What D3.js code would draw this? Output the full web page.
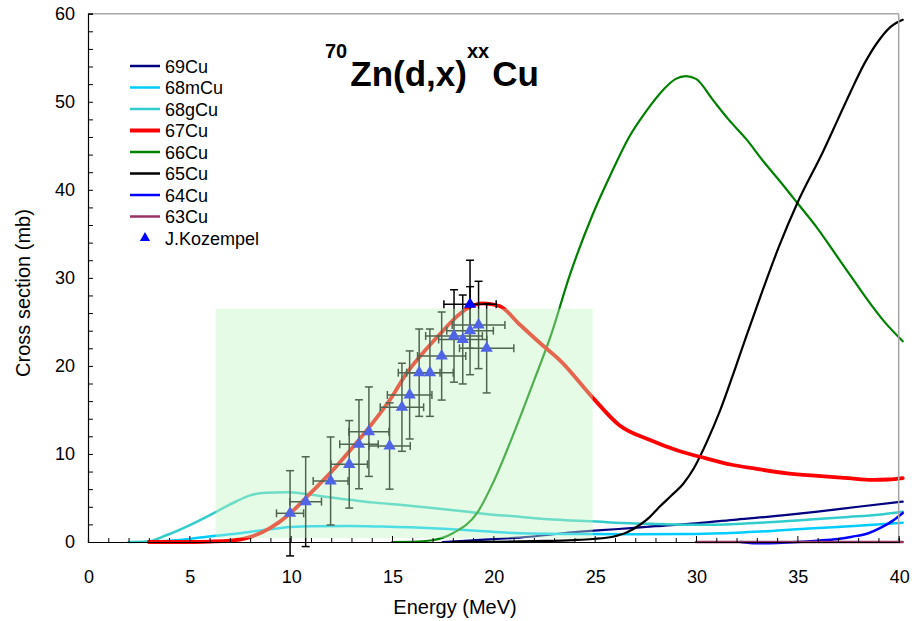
<!DOCTYPE html>
<html>
<head>
<meta charset="utf-8">
<script src="https://cdn.jsdelivr.net/npm/d3@7/dist/d3.min.js"></script>
<style>
  html, body { margin: 0; padding: 0; background: #fff; }
  svg { display: block; font-family: "Liberation Sans", Arial, sans-serif; }
</style>
</head>
<body>
<svg id="chart" width="912" height="621"></svg>
<script>
// Excitation functions for 70Zn(d,x)Cu isotopes: [energy MeV, cross section mb]
const cu69 = [[17.5,0],[19,0.2],[21.3,0.5],[24.3,1.17],[26,1.45],[28,1.8],[30,2.12],[32,2.55],[34.5,3.07],[36,3.45],[38,4.0],[40.2,4.58]];
const cu68m = [[3,0],[4,0.15],[5,0.35],[6.3,0.7],[7.5,1.0],[8.5,1.3],[10,1.7],[11,1.8],[12.9,1.82],[14.5,1.75],[17,1.56],[19,1.3],[21.3,0.99],[24.3,0.91],[27,0.88],[30,0.91],[32,1.05],[34,1.3],[35.8,1.56],[38,1.85],[40.2,2.19]];
const cu68g = [[2,0],[2.9,0.05],[3.9,0.8],[5,1.9],[6.3,3.4],[7.3,4.6],[8,5.3],[8.8,5.6],[9.8,5.65],[10.8,5.45],[11.8,5.1],[12.9,4.8],[14,4.5],[15.5,4.2],[17,3.86],[18.5,3.5],[20,3.1],[21.3,2.87],[22.5,2.6],[24.3,2.42],[26,2.2],[28,2.05],[30,1.95],[32,2.05],[34,2.3],[35.8,2.58],[37.5,2.85],[39,3.1],[40.2,3.44]];
const cu67 = [[3,0],[5,0],[6,0.05],[7,0.15],[7.9,0.5],[9,1.6],[9.9,3.1],[11,5.6],[12.1,8.2],[13,10.6],[13.9,13.1],[15,16.5],[15.7,19.1],[16.5,21.4],[17.4,23.7],[18.1,25.4],[18.7,26.5],[19.5,27.1],[20.3,26.8],[21.3,24.7],[22.3,22.6],[23.3,20.6],[24.9,16.4],[26.2,13.3],[27.7,11.6],[29.2,10.3],[30.5,9.5],[31.7,8.8],[33,8.3],[34.5,7.8],[36,7.5],[37.5,7.25],[38.7,7.06],[39.5,7.1],[40.2,7.25]];
const cu66 = [[15,0],[16,0.02],[17,0.2],[18,1.0],[19.2,3.3],[20,6.8],[21,12.3],[22,18.3],[22.8,23.2],[23.8,30.5],[24.9,37.2],[25.8,41.8],[26.7,46.0],[27.5,48.8],[28.4,51.4],[29,52.6],[29.5,52.9],[30,52.6],[30.8,50.3],[31.6,48.0],[32.5,45.7],[33.3,43.3],[34.2,40.8],[35,38.5],[36,35.6],[37,32.3],[37.7,30.0],[38.4,27.7],[39.3,25.0],[40.2,22.8]];
const cu65 = [[18,0],[20,0.02],[22,0.1],[24,0.22],[24.9,0.34],[25.9,0.6],[26.6,1.1],[27.2,1.9],[27.7,2.8],[28.2,4.0],[28.8,5.3],[29.4,6.7],[29.9,8.4],[30.5,11.2],[31.2,15],[31.9,19.5],[32.5,23.5],[33.15,27.7],[34.1,33.6],[35,38.5],[36.3,44.5],[37,48.0],[37.6,51.0],[38.3,54.3],[39,56.9],[39.6,58.5],[40.2,59.3]];
const cu64 = [[32.2,0],[33,-0.15],[34,-0.1],[35,0],[36,0.15],[37,0.35],[37.7,0.6],[38.5,1.0],[39.1,1.6],[39.7,2.4],[40.2,3.3]];
const cu63 = [[30,0],[40.2,0]];

// J.Kozempel measurements: energy, cross section, energy error, cross-section error
const kozE    = [9.97, 10.74, 11.97, 12.89, 13.37, 13.86, 14.88, 15.49, 15.87, 16.34, 16.87, 17.45, 18.06, 18.49, 18.85, 19.27, 19.67, 18.85];
const kozS    = [3.26, 4.58, 6.93, 8.82, 11.1, 12.53, 10.9, 15.3, 16.7, 19.23, 19.23, 21.12, 23.4, 23.0, 24.0, 24.65, 22.0, 27.0];
const kozDE   = [0.67, 0.78, 0.86, 0.9, 0.95, 0.99, 1.02, 1.07, 1.1, 1.03, 1.15, 1.19, 1.4, 1.19, 1.15, 1.3, 1.34, 1.29];
const kozDS   = [4.84, 5.1, 5.0, 4.97, 5.05, 5.08, 4.9, 5.0, 5.0, 4.96, 4.96, 5.0, 5.25, 5.05, 5.0, 4.96, 5.07, 5.0];

// Shaded energy window [E1, E2] x [s1, s2]
const windowE = [6.3, 24.9];
const windowS = [0.45, 26.5];

const xTicks = [0, 5, 10, 15, 20, 25, 30, 35, 40];
const yTicks = [0, 10, 20, 30, 40, 50, 60];

const seriesNames  = ["69Cu", "68mCu", "68gCu", "67Cu", "66Cu", "65Cu", "64Cu", "63Cu"];
const seriesData   = [cu69, cu68m, cu68g, cu67, cu66, cu65, cu64, cu63];
const seriesColors = ["#000080", "#00CCFF", "#33CCCC", "#FF0000", "#008000", "#000000", "#0000FF", "#993366"];
const seriesWidths = [2.2, 2.5, 2.5, 3.8, 2.2, 2.2, 2.5, 2.5];

const svg = d3.select("#chart");
const plotLeft = 88, plotRight = 898.7, plotTop = 13.7, plotBottom = 542;

const x = d3.scaleLinear().domain([0, 40]).range([plotLeft, plotRight]);
const y = d3.scaleLinear().domain([0, 60]).range([plotBottom, plotTop]);

const line = d3.line().x(d => x(d[0])).y(d => y(d[1])).curve(d3.curveMonotoneX);

// curves (red drawn last so it sits on top)
const drawOrder = [0, 1, 2, 4, 5, 6, 7, 3];
const gLines = svg.append("g");
drawOrder.forEach(i => {
  gLines.append("path")
    .datum(seriesData[i])
    .attr("d", line)
    .attr("fill", "none")
    .attr("stroke", seriesColors[i])
    .attr("stroke-width", seriesWidths[i])
    .attr("stroke-linejoin", "round")
    .attr("stroke-linecap", "round");
});

// error bars
const gErr = svg.append("g").attr("stroke", "#000").attr("stroke-width", 1.5);
const cap = 4;
kozE.forEach((e, i) => {
  const cx = x(e), cy = y(kozS[i]);
  const y1 = y(kozS[i] - kozDS[i]), y2 = y(kozS[i] + kozDS[i]);
  const x1 = x(e - kozDE[i]), x2 = x(e + kozDE[i]);
  gErr.append("line").attr("x1", cx).attr("x2", cx).attr("y1", y1).attr("y2", y2);
  gErr.append("line").attr("x1", cx - cap).attr("x2", cx + cap).attr("y1", y1).attr("y2", y1);
  gErr.append("line").attr("x1", cx - cap).attr("x2", cx + cap).attr("y1", y2).attr("y2", y2);
  gErr.append("line").attr("x1", x1).attr("x2", x2).attr("y1", cy).attr("y2", cy);
  gErr.append("line").attr("x1", x1).attr("x2", x1).attr("y1", cy - cap).attr("y2", cy + cap);
  gErr.append("line").attr("x1", x2).attr("x2", x2).attr("y1", cy - cap).attr("y2", cy + cap);
});

// markers
const tri = d3.symbol().type(d3.symbolTriangle).size(66);
svg.append("g").selectAll("path")
  .data(kozE.map((e, i) => [e, kozS[i]]))
  .join("path")
  .attr("d", tri)
  .attr("transform", d => `translate(${x(d[0])},${y(d[1])})`)
  .attr("fill", "#0000FF");

// translucent energy window
svg.append("rect")
  .attr("x", x(windowE[0]))
  .attr("width", x(windowE[1]) - x(windowE[0]))
  .attr("y", y(windowS[1]))
  .attr("height", y(windowS[0]) - y(windowS[1]))
  .attr("fill", "rgb(193,245,193)")
  .attr("fill-opacity", 0.41);

// frame: top and right in grey
svg.append("line").attr("x1", plotLeft).attr("x2", plotRight).attr("y1", plotTop).attr("y2", plotTop)
  .attr("stroke", "#a6a6a6").attr("stroke-width", 1.5);
svg.append("line").attr("x1", plotRight).attr("x2", plotRight).attr("y1", plotTop).attr("y2", plotBottom)
  .attr("stroke", "#a6a6a6").attr("stroke-width", 1.5);

// x axis
const xAxis = svg.append("g").attr("transform", `translate(0,${plotBottom})`);
xAxis.call(d3.axisBottom(x).tickValues(d3.range(0, 41, 1)).tickSize(-4).tickFormat(""));
xAxis.call(g => g.selectAll(".tick line").attr("stroke", "#000")
  .filter(d => d % 5 === 0).attr("y2", -6));
xAxis.select(".domain").attr("stroke", "#000").attr("stroke-width", 1.2);
svg.append("g").selectAll("text").data(xTicks).join("text")
  .attr("x", d => x(d) + 1)
  .attr("y", plotBottom + 41)
  .attr("text-anchor", "middle")
  .attr("font-size", 18)
  .attr("fill", "#000")
  .text(d => d);

// y axis
const yAxis = svg.append("g").attr("transform", `translate(${plotLeft},0)`);
yAxis.call(d3.axisLeft(y).tickValues(d3.range(0, 61, 2)).tickSize(-5).tickFormat(""));
yAxis.call(g => g.selectAll(".tick line").attr("stroke", "#000"));
yAxis.select(".domain").attr("stroke", "#000").attr("stroke-width", 1.2);
svg.append("g").selectAll("text").data(yTicks).join("text")
  .attr("x", plotLeft - 13)
  .attr("y", d => y(d) + 6)
  .attr("text-anchor", "end")
  .attr("font-size", 18)
  .attr("fill", "#000")
  .text(d => d);

// axis titles
svg.append("text")
  .attr("x", 455)
  .attr("y", 614)
  .attr("text-anchor", "middle")
  .attr("font-size", 20)
  .text("Energy (MeV)");
svg.append("text")
  .attr("transform", "translate(30,293) rotate(-90)")
  .attr("text-anchor", "middle")
  .attr("font-size", 20)
  .text("Cross section (mb)");

// title with superscripts
const title = svg.append("text")
  .attr("x", 325).attr("y", 86)
  .attr("font-weight", "bold")
  .attr("font-size", 35);
title.append("tspan").attr("font-size", 20).attr("dy", -28).text("70");
title.append("tspan").attr("dx", 3).attr("dy", 28).text("Zn(d,x)");
title.append("tspan").attr("font-size", 20).attr("dy", -28).text("xx");
title.append("tspan").attr("dx", 3).attr("dy", 28).text("Cu");

// legend
const lg = svg.append("g");
const lgTop = 66, lgStep = 21.5;
seriesNames.forEach((name, i) => {
  const ly = lgTop + i * lgStep;
  lg.append("line")
    .attr("x1", 130).attr("x2", 160).attr("y1", ly).attr("y2", ly)
    .attr("stroke", seriesColors[i])
    .attr("stroke-width", i === 3 ? 4 : 2.5);
  lg.append("text")
    .attr("x", 165).attr("y", ly + 6.5)
    .attr("font-size", 18)
    .text(name);
});
const ky = lgTop + 8 * lgStep;
lg.append("path")
  .attr("d", d3.symbol().type(d3.symbolTriangle).size(45))
  .attr("transform", `translate(145,${ky})`)
  .attr("fill", "#0000FF");
lg.append("text")
  .attr("x", 165).attr("y", ky + 6.5)
  .attr("font-size", 18)
  .text("J.Kozempel");
</script>
</body>
</html>
